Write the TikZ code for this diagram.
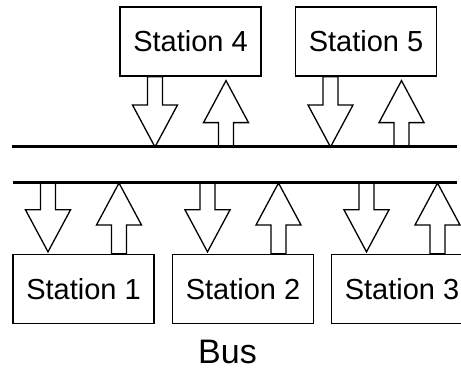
\documentclass[tikz,border=0pt]{standalone}
\usepackage{fontspec}
\setmainfont{Liberation Sans}
\usetikzlibrary{calc}
\tikzset{
  every picture/.style={line width=1.3pt,font=\fontsize{29}{34}\selectfont},
  stn/.style={draw,fill=white,minimum width=141pt,minimum height=69pt,inner sep=0pt},
  busline/.style={line width=3pt},
  blk/.style={draw,fill=white,line join=miter},
}
% block arrow: x taken from #1, runs from the height of #2 to a tip at the height of #3
\newcommand{\blockarrow}[3]{%
  \draw[blk] let \p0=(#1), \p1=(#2), \p2=(#3),
    \n1={ifthenelse(\y2>\y1,42,-42)} in
    (\x0-7.5,\y1) -- (\x0-7.5,\y2-\n1) -- (\x0-22.5,\y2-\n1) -- (\x0,\y2)
    -- (\x0+22.5,\y2-\n1) -- (\x0+7.5,\y2-\n1) -- (\x0+7.5,\y1) -- cycle;}

\begin{document}
\begin{tikzpicture}[x=1pt,y=1pt]
  \clip (0,0) rectangle (461,372);
  \fill[white] (0,0) rectangle (461,372);
  \node[stn] (s4) at (190.5,330.5) {Station 4};
  \node[stn] (s5) at (366,330.5) {Station 5};
  \node[stn] (s1) at (83.5,83) {Station 1};
  \node[stn] (s2) at (243,83) {Station 2};
  \node[stn] (s3) at (402,83) {Station 3};
  \coordinate (bt) at (12,225);
  \coordinate (btend) at (457,225);
  \coordinate (bb) at (13,189);
  \coordinate (bbend) at (457,189);
  \node[font=\fontsize{34}{40}\selectfont,inner sep=0pt,anchor=base] (bus) at (227.5,8) {Bus};
  % upper stations
  \foreach \s in {s4,s5} {
    \blockarrow{[xshift=-35.5pt]\s.south}{\s.south}{bt}
    \blockarrow{[xshift=35.5pt]\s.south}{bt}{[yshift=-4pt]\s.south}
  }
  % lower stations
  \foreach \s in {s1,s2,s3} {
    \blockarrow{[xshift=-35.5pt]\s.north}{bb}{[yshift=2pt]\s.north}
    \blockarrow{[xshift=35.5pt]\s.north}{\s.north}{bb}
  }
  \draw[busline] (bt) -- (btend);
  \draw[busline] (bb) -- (bbend);
\end{tikzpicture}
\end{document}
